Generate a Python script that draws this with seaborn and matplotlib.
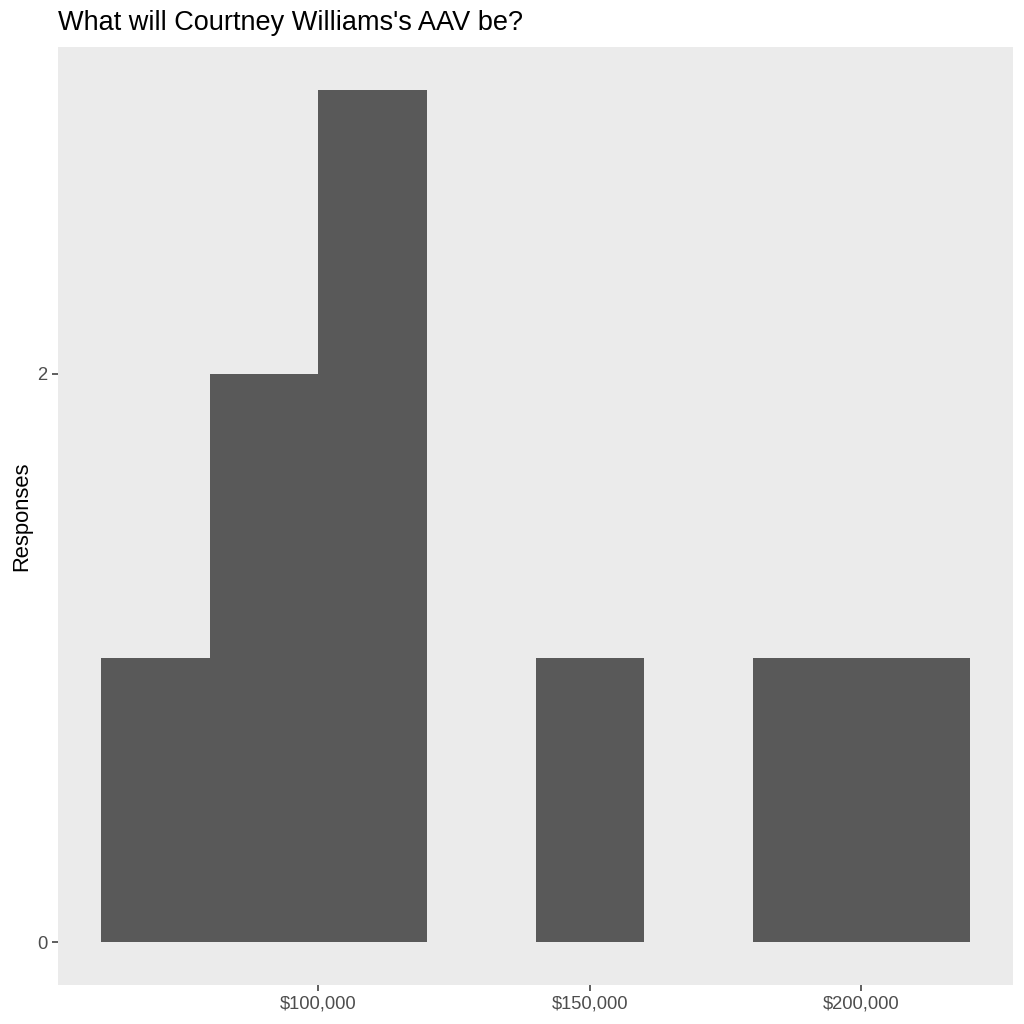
import numpy as np
import matplotlib
matplotlib.use("Agg")
import matplotlib.pyplot as plt
import seaborn as sns
from matplotlib.ticker import FuncFormatter

# histogram bins (AAV guesses, $) and response counts per bin
bin_edges = [60000, 80000, 100000, 120000, 140000, 160000, 180000, 200000, 220000]
bin_counts = [1, 2, 3, 0, 1, 0, 1, 1]
x_ticks = [100000, 150000, 200000]
y_ticks = [0, 2]

bin_mids = [(a + b) / 2 for a, b in zip(bin_edges[:-1], bin_edges[1:])]

sns.set_style("white")
plt.rcParams["font.family"] = ["Liberation Sans", "DejaVu Sans"]

fig = plt.figure(figsize=(10.24, 10.24), dpi=100)
ax = fig.add_axes([58 / 1024, 39 / 1024, 955 / 1024, 938 / 1024])
ax.set_facecolor("#EBEBEB")

sns.histplot(x=bin_mids, weights=bin_counts, bins=bin_edges, ax=ax,
             color="#595959", alpha=1, edgecolor="none", linewidth=0)

ax.set_xlim(52000, 228000)
ax.set_ylim(-0.15, 3.15)
ax.set_xticks(x_ticks)
ax.set_yticks(y_ticks)
ax.xaxis.set_major_formatter(FuncFormatter(lambda v, p: f"${v:,.0f}"))
ax.tick_params(axis="both", bottom=True, left=True, length=4.5, width=1.1,
               color="#333333", labelcolor="#4D4D4D", labelsize=13.2, pad=3)
ax.grid(False)
for s in ax.spines.values():
    s.set_visible(False)

ax.set_xlabel("")
ax.set_ylabel("Responses", fontsize=15.8, color="black", labelpad=4)
ax.set_title("What will Courtney Williams's AAV be?", loc="left",
             fontsize=19.5, color="black", pad=12)

fig.savefig("out.png", dpi=100, facecolor="white")
